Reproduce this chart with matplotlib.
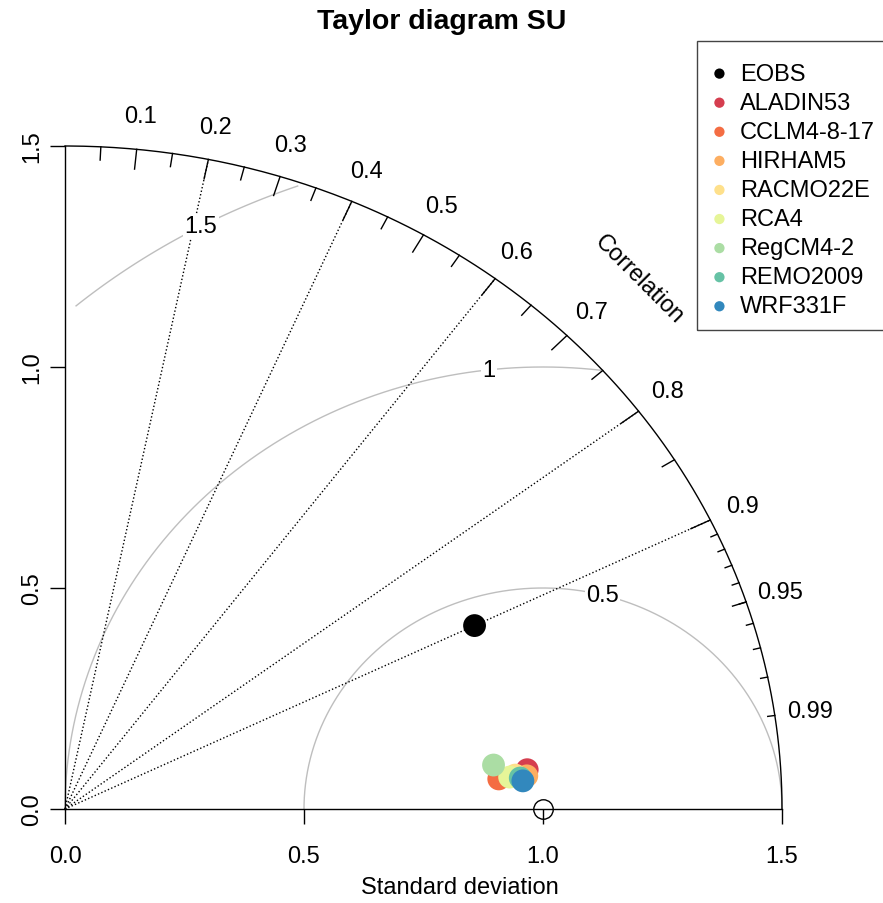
import numpy as np
import matplotlib
matplotlib.use("Agg")
import matplotlib.pyplot as plt
from matplotlib.patches import Rectangle

plt.rcParams['font.family'] = ['Liberation Sans', 'DejaVu Sans']

# data: standard deviation (normalised) and correlation for each dataset
names = ["EOBS", "ALADIN53", "CCLM4-8-17", "HIRHAM5", "RACMO22E",
         "RCA4", "RegCM4-2", "REMO2009", "WRF331F"]
sd = [0.952, 0.971, 0.910, 0.969, 0.945, 0.933, 0.902, 0.955, 0.960]
corr = [0.900, 0.9958, 0.9972, 0.9970, 0.9967, 0.9970, 0.9939, 0.9973, 0.9978]
colors = ["#000000", "#D53E4F", "#F46D43", "#FDAE61", "#FEE08B",
          "#E6F598", "#ABDDA4", "#66C2A5", "#3288BD"]

sd_ref = 1.0
maxray = 1.5
gamma = [0.5, 1.0, 1.5]
gamma_labels = ["0.5", "1", "1.5"]
gamma_label_angle = [75.6, 96.5, 118.5]   # degrees, around the reference point
corr_lines = [0.2, 0.4, 0.6, 0.8, 0.9]
corr_labels = [0.1, 0.2, 0.3, 0.4, 0.5, 0.6, 0.7, 0.8, 0.9, 0.95, 0.99]
sd_ticks = [0.0, 0.5, 1.0, 1.5]

fig = plt.figure(figsize=(8.83, 9.04), dpi=100)
ax = fig.add_axes([65/883, 94/904, 717/883, 663/904])
ax.set_xlim(0, maxray)
ax.set_ylim(0, maxray)
for s in ["top", "right"]:
    ax.spines[s].set_visible(False)
ax.spines["left"].set_linewidth(1.0)
ax.spines["bottom"].set_linewidth(1.0)
ax.set_xticks(sd_ticks)
ax.set_yticks(sd_ticks)
ax.set_xticklabels(["%.1f" % v for v in sd_ticks])
ax.set_yticklabels(["%.1f" % v for v in sd_ticks], rotation=90, va="center")
ax.tick_params(axis="both", length=10.8, width=1.0, labelsize=17)
ax.tick_params(axis="x", pad=15)
ax.tick_params(axis="y", pad=5)

# gray RMS arcs
t = np.arange(0, np.pi, 0.01)
for g, lab, ang in zip(gamma, gamma_labels, gamma_label_angle):
    xc = sd_ref + g*np.cos(t)
    yc = g*np.sin(t)
    keep = (xc**2 + yc**2 <= maxray**2) & (xc >= 0) & ((xc >= 0.02) | (yc < 0.2))
    ax.plot(xc[keep], yc[keep], color="#BEBEBE", lw=1, clip_on=False)
    a = np.radians(ang)
    ax.text(sd_ref + g*np.cos(a), g*np.sin(a), lab, fontsize=17,
            ha="center", va="center",
            bbox=dict(facecolor="white", edgecolor="none", pad=1))

# outer arc
t2 = np.linspace(0, np.pi/2, 300)
ax.plot(maxray*np.cos(t2), maxray*np.sin(t2), color="black", lw=1, clip_on=False)

# radial correlation lines
for c in corr_lines:
    a = np.arccos(c)
    ax.plot([0, maxray*np.cos(a)], [0, maxray*np.sin(a)], color="black",
            lw=1, linestyle=(0, (1, 1.6)), clip_on=False)

# tick marks on the arc
for vals, frac in [(np.arange(0.1, 0.91, 0.1), 0.97),
                   (np.arange(0.05, 0.96, 0.1), 0.98),
                   (np.arange(0.91, 0.995, 0.01), 0.99)]:
    a = np.arccos(vals)
    for ai in a:
        ax.plot([maxray*np.cos(ai), frac*maxray*np.cos(ai)],
                [maxray*np.sin(ai), frac*maxray*np.sin(ai)],
                color="black", lw=1, clip_on=False)

for c in corr_labels:
    a = np.arccos(c)
    ax.text(1.05*maxray*np.cos(a), 1.05*maxray*np.sin(a), str(c),
            fontsize=17, ha="center", va="center", clip_on=False)

ax.text(1.2, 1.2, "Correlation", fontsize=17, rotation=-45,
        rotation_mode="anchor", ha="center", va="center")

# reference point
ax.plot([sd_ref], [0], marker="o", markersize=14, markerfacecolor="none",
        markeredgecolor="black", markeredgewidth=1, clip_on=False, zorder=5)

# data points
for n, s, c, col in zip(names, sd, corr, colors):
    ax.scatter(s*c, s*np.sqrt(1 - c**2), s=270, color=col, zorder=6,
               clip_on=False, label=n, edgecolors="none")

leg = ax.legend(loc="upper left", bbox_to_anchor=(697/883, 1 - 52/904),
                bbox_transform=fig.transFigure, fontsize=17, frameon=False,
                markerscale=0.45, handletextpad=0.42, handlelength=0.9,
                labelspacing=0.3, borderpad=0.5, borderaxespad=0)
fig.patches.append(Rectangle((697/883, 1 - 331/904), 200/883, 289/904,
                             transform=fig.transFigure, fill=False,
                             edgecolor="#444444", lw=1))

fig.text(460/883, 1 - 888/904, "Standard deviation", fontsize=17,
         ha="center", va="center")
fig.text(0.5, 1 - 22/904, "Taylor diagram SU", fontsize=20.5,
         fontweight="bold", ha="center", va="center")

fig.savefig("out.png", dpi=100)
